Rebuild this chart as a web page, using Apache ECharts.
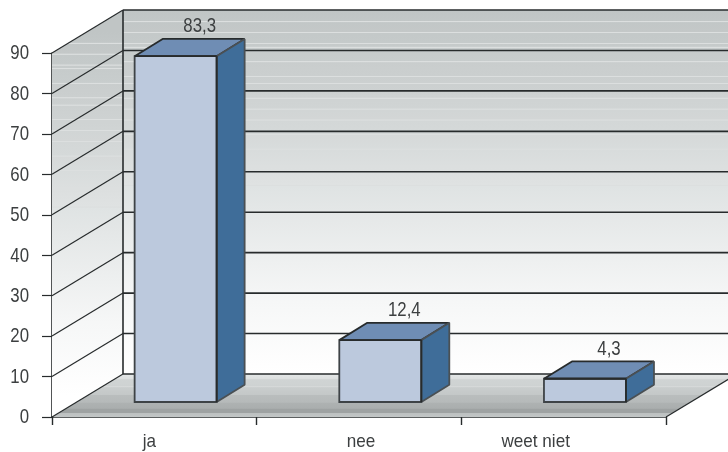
<!DOCTYPE html>
<html>
<head>
<meta charset="utf-8">
<style>html,body{margin:0;padding:0;background:#fff}#main{width:728px;height:452px}</style>
<script src="https://cdn.jsdelivr.net/npm/echarts@6/dist/echarts.min.js"></script>
</head>
<body>
<div id="main"></div>
<script>
const categories = ['ja', 'nee', 'weet niet']
// printed above the bars
const barLabels = ['83,3', '12,4', '4,3']
// bar tops as they stand against the axis in the picture (they sit a bit above the printed numbers)
const barHeights = [85.5, 15.3, 5.75]
const yTicks = [0, 10, 20, 30, 40, 50, 60, 70, 80, 90]

const font = '"Liberation Sans", sans-serif'
const ink = '#272b2c'
const textColor = '#3c3f40'
const depthX = 71, depthY = 43
const barW = 82, barDX = 28, barDY = 17.3
const barShiftX = 21.3, barShiftY = 15
const labelShift = { ja: -5, nee: 2, 'weet niet': -28 }

// hard stops, the original has thin light streaks in its blend
function streaked(base, streaks, light) {
	const stops = []
	base.forEach(s => stops.push(s))
	streaks.forEach(o => {
		stops.push({ offset: o, color: null }, { offset: o + 0.0015, color: light }, { offset: o + 0.003, color: light }, { offset: o + 0.0045, color: null })
	})
	stops.sort((a, b) => a.offset - b.offset)
	const at = o => {
		for (let i = 0; i < base.length - 1; i++) {
			if (o <= base[i + 1].offset) {
				const t = (o - base[i].offset) / (base[i + 1].offset - base[i].offset)
				return echarts.color.lerp(t, [base[i].color, base[i + 1].color])
			}
		}
		return base[base.length - 1].color
	}
	return stops.map(s => ({ offset: s.offset, color: s.color || at(s.offset) }))
}

const wallStops = streaked([
	{ offset: 0, color: '#c0c5c5' },
	{ offset: 0.25, color: '#cfd3d3' },
	{ offset: 0.55, color: '#e4e7e7' },
	{ offset: 0.8, color: '#f6f7f7' },
	{ offset: 1, color: '#ffffff' }
], [0.03, 0.06, 0.09, 0.1, 0.14, 0.18, 0.2, 0.24, 0.27, 0.3, 0.34, 0.38, 0.43, 0.48], '#dcdfdf')

const floorStops = [
	{ offset: 0, color: '#e4e7e7' },
	{ offset: 0.12, color: '#dcdfdf' },
	{ offset: 0.13, color: '#d0d4d4' },
	{ offset: 0.27, color: '#ced2d2' },
	{ offset: 0.28, color: '#dadddd' },
	{ offset: 0.32, color: '#c9cdcd' },
	{ offset: 0.48, color: '#c4c8c8' },
	{ offset: 0.49, color: '#b9bdbd' },
	{ offset: 0.66, color: '#b6baba' },
	{ offset: 0.67, color: '#aeb2b2' },
	{ offset: 0.8, color: '#aaaeae' },
	{ offset: 0.81, color: '#9ea2a2' },
	{ offset: 0.9, color: '#9ea2a2' },
	{ offset: 0.91, color: '#bcc0c0' },
	{ offset: 1, color: '#c2c6c6' }
]

const fill = (y0, y1, colorStops) => ({ type: 'linear', x: 0, y: y0, x2: 0, y2: y1, global: true, colorStops })

function condensed(text, x, y, size, scaleX, align) {
	return { type: 'text', x, y, scaleX, style: { text, font: size + 'px ' + font, fill: textColor, align, verticalAlign: 'middle' } }
}

function renderBox(params, api) {
	const r = params.coordSys
	const x0 = r.x, x1 = r.x + r.width
	const y0 = api.coord([0, 0])[1], y9 = api.coord([0, 90])[1]
	const children = [
		{ type: 'polygon', shape: { points: [[x0 + depthX, y9 - depthY], [x1 + depthX, y9 - depthY], [x1 + depthX, y0 - depthY], [x0 + depthX, y0 - depthY]] }, style: { fill: fill(y9 - depthY, y0 - depthY, wallStops) } },
		{ type: 'polygon', shape: { points: [[x0, y9], [x0 + depthX, y9 - depthY], [x0 + depthX, y0 - depthY], [x0, y0]] }, style: { fill: fill(y9 - depthY / 2, y0 - depthY / 2, wallStops) } },
		{ type: 'polygon', shape: { points: [[x0, y0], [x0 + depthX, y0 - depthY], [x1 + depthX, y0 - depthY], [x1, y0]] }, style: { fill: fill(y0 - depthY, y0, floorStops) } }
	]
	yTicks.forEach(v => {
		const y = api.coord([0, v])[1]
		children.push({ type: 'line', shape: { x1: x0, y1: y, x2: x0 + depthX, y2: y - depthY }, style: { stroke: ink, lineWidth: 1.2 } })
		children.push({ type: 'line', shape: { x1: x0 + depthX, y1: y - depthY, x2: x1 + depthX, y2: y - depthY }, style: { stroke: ink, lineWidth: 1.6 } })
		children.push(condensed(String(v), 29, y + 0.5, 21, 0.8, 'right'))
	})
	children.push({ type: 'line', shape: { x1: x0 + depthX, y1: y9 - depthY, x2: x0 + depthX, y2: y0 - depthY }, style: { stroke: ink, lineWidth: 1.6 } })
	children.push({ type: 'line', shape: { x1: x1, y1: y0, x2: x1 + depthX, y2: y0 - depthY }, style: { stroke: ink, lineWidth: 1.2 } })
	categories.forEach((c, i) => {
		children.push(condensed(c, api.coord([i, 0])[0] + labelShift[c], 442, 19, 0.9, 'center'))
	})
	return { type: 'group', children }
}

function renderBar(params, api) {
	const p = api.coord([api.value(0), api.value(1)])
	const base = api.coord([api.value(0), 0])
	const l = p[0] + barShiftX - barW / 2, r = l + barW
	const t = p[1] - barShiftY, b = base[1] - barShiftY
	const edge = { stroke: ink, lineWidth: 1.8, lineJoin: 'bevel' }
	return {
		type: 'group',
		children: [
			{ type: 'polygon', shape: { points: [[l, t], [l + barDX, t - barDY], [r + barDX, t - barDY], [r, t]] }, style: Object.assign({ fill: '#6f8db4' }, edge) },
			{ type: 'polygon', shape: { points: [[r, t], [r + barDX, t - barDY], [r + barDX, b - barDY], [r, b]] }, style: { fill: '#3f6d99', stroke: '#4a5054', lineWidth: 1.8, lineJoin: 'bevel' } },
			{ type: 'rect', shape: { x: l, y: t, width: barW, height: b - t }, style: { fill: '#bcc9dd', stroke: '#3e4346', lineWidth: 1.8 } },
			{ type: 'line', shape: { x1: l, y1: t, x2: r, y2: t }, style: edge },
			{ type: 'line', shape: { x1: r, y1: t, x2: r, y2: b }, style: edge },
			condensed(barLabels[params.dataIndex], (l + r) / 2 + 24, t - barDY - 12, 20, 0.84, 'center')
		]
	}
}

const chart = echarts.init(document.getElementById('main'), null, { renderer: 'canvas' })
chart.setOption({
	animation: false,
	backgroundColor: '#fff',
	grid: { left: 52, right: 62, top: 53, bottom: 35 },
	xAxis: {
		type: 'category',
		data: categories,
		boundaryGap: true,
		axisLine: { lineStyle: { color: ink, width: 1.6 } },
		axisTick: { show: true, length: 8, lineStyle: { color: ink, width: 1.4 } },
		axisLabel: { show: false }
	},
	yAxis: {
		type: 'value',
		min: 0, max: 90, interval: 10,
		axisLine: { show: true, lineStyle: { color: ink, width: 1.6 } },
		axisTick: { show: true, length: 10, lineStyle: { color: ink, width: 1.2 } },
		axisLabel: { show: false },
		splitLine: { show: false }
	},
	series: [
		{ type: 'custom', renderItem: renderBox, data: [[0, 0]], silent: true, clip: false, z: 1 },
		{ type: 'custom', renderItem: renderBar, data: barHeights.map((v, i) => [i, v]), clip: false, z: 3 }
	]
})
</script>
</body>
</html>
